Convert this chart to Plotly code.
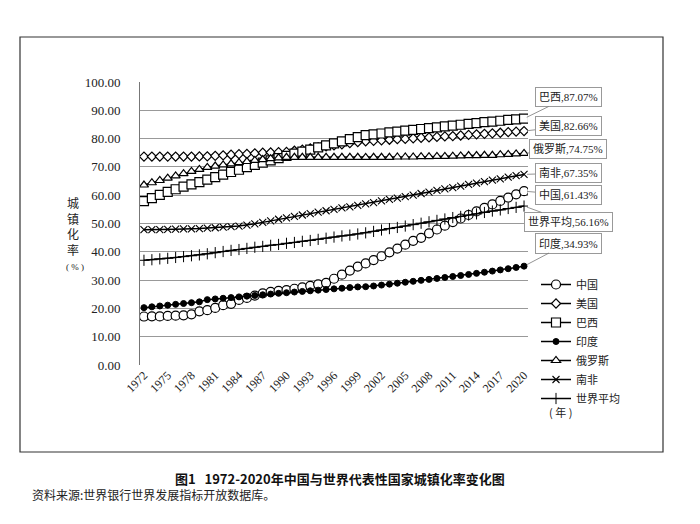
import plotly.graph_objects as go

years = list(range(1972, 2021))

china = [17.13, 17.20, 17.16, 17.34, 17.44, 17.55, 17.92, 18.96, 19.36, 20.16,
         21.13, 21.62, 23.01, 23.71, 24.52, 25.32, 25.81, 26.21, 26.44, 26.94,
         27.46, 27.99, 28.51, 29.04, 30.48, 31.91, 33.35, 34.78, 35.88, 37.09,
         38.43, 39.78, 41.14, 42.52, 43.87, 44.94, 46.54, 47.88, 49.23, 50.51,
         51.77, 53.01, 54.26, 55.50, 56.74, 57.96, 59.15, 60.31, 61.43]
usa = [73.65, 73.66, 73.66, 73.65, 73.66, 73.66, 73.66, 73.69, 73.74, 73.9,
       74.1, 74.3, 74.5, 74.6, 74.8, 75.0, 75.1, 75.2, 75.3, 75.7,
       76.1, 76.5, 76.9, 77.3, 77.6, 78.0, 78.4, 78.8, 79.06, 79.2,
       79.4, 79.6, 79.8, 79.9, 80.1, 80.3, 80.4, 80.6, 80.77, 80.9,
       81.1, 81.3, 81.5, 81.67, 81.86, 82.06, 82.26, 82.46, 82.66]
brazil = [57.9, 59.0, 60.1, 61.2, 62.1, 63.0, 63.8, 64.6, 65.5, 66.4,
          67.3, 68.2, 69.0, 69.9, 70.7, 71.5, 72.3, 73.1, 73.9, 74.7,
          75.4, 76.1, 76.9, 77.6, 78.3, 79.0, 79.8, 80.5, 81.2, 81.5,
          81.8, 82.2, 82.5, 82.8, 83.1, 83.4, 83.7, 84.0, 84.3, 84.6,
          84.9, 85.2, 85.5, 85.8, 86.0, 86.3, 86.6, 86.8, 87.07]
india = [20.27, 20.56, 20.85, 21.14, 21.43, 21.73, 22.02, 22.32, 23.10, 23.34,
         23.58, 23.82, 24.07, 24.32, 24.57, 24.82, 25.07, 25.32, 25.55, 25.78,
         26.00, 26.22, 26.45, 26.67, 26.90, 27.13, 27.36, 27.59, 27.67, 27.92,
         28.24, 28.57, 28.90, 29.24, 29.57, 29.91, 30.25, 30.59, 30.93, 31.28,
         31.63, 32.00, 32.38, 32.78, 33.18, 33.60, 34.03, 34.47, 34.93]
russia = [63.6, 64.4, 65.2, 66.0, 66.8, 67.6, 68.4, 69.1, 69.8, 70.3,
          70.7, 71.1, 71.5, 71.9, 72.3, 72.6, 72.9, 73.2, 73.4, 73.4,
          73.4, 73.4, 73.4, 73.4, 73.4, 73.4, 73.4, 73.4, 73.35, 73.4,
          73.4, 73.4, 73.5, 73.5, 73.5, 73.6, 73.6, 73.7, 73.7, 73.8,
          73.9, 74.0, 74.0, 74.1, 74.1, 74.3, 74.4, 74.6, 74.75]
south_africa = [47.8, 47.8, 47.8, 47.9, 48.0, 48.1, 48.1, 48.2, 48.4, 48.5,
                48.7, 48.9, 49.1, 49.4, 49.9, 50.4, 50.9, 51.5, 52.0, 52.5,
                53.0, 53.5, 54.0, 54.5, 55.0, 55.5, 55.9, 56.4, 56.9, 57.4,
                58.0, 58.5, 59.0, 59.5, 60.0, 60.6, 61.1, 61.7, 62.2, 62.7,
                63.2, 63.8, 64.3, 64.8, 65.3, 65.8, 66.4, 66.9, 67.35]
world = [37.0, 37.2, 37.5, 37.7, 38.0, 38.3, 38.6, 38.9, 39.3, 39.7,
         40.1, 40.5, 40.8, 41.2, 41.6, 41.9, 42.3, 42.6, 43.0, 43.3,
         43.7, 44.0, 44.4, 44.8, 45.2, 45.6, 45.9, 46.3, 46.7, 47.2,
         47.7, 48.2, 48.6, 49.1, 49.6, 50.1, 50.6, 51.1, 51.6, 52.1,
         52.5, 53.0, 53.4, 53.9, 54.4, 54.8, 55.3, 55.7, 56.16]

series_names = ["中国", "美国", "巴西", "印度", "俄罗斯", "南非", "世界平均"]
series_values = [china, usa, brazil, india, russia, south_africa, world]
tick_years = list(range(1972, 2021, 3))
ytick_vals = list(range(0, 101, 10))
ytick_text = [f"{v:.2f}" for v in ytick_vals]

styles = {
    "中国": dict(symbol="circle", size=9, color="white", lw=1.2),
    "美国": dict(symbol="diamond", size=7, color="white", lw=1.2),
    "巴西": dict(symbol="square", size=9, color="white", lw=1.2),
    "印度": dict(symbol="circle", size=6, color="black", lw=1),
    "俄罗斯": dict(symbol="triangle-up", size=8, color="white", lw=1.2),
    "南非": dict(symbol="x-thin", size=7, color="black", lw=1.1),
    "世界平均": dict(symbol="cross-thin", size=8, color="black", lw=1),
}

CJK = "Noto Sans CJK SC"
SERIF = "Liberation Serif, Noto Sans CJK SC"

# screen geometry of the plot area (page has 8px body margin)
L, T, W, H = 140, 82, 388, 283
OFF = 8


def px(xs):
    return (xs - L) / W


def py(ys):
    return (T + H - ys) / H


fig = go.Figure()
for name, vals in zip(series_names, series_values):
    s = styles[name]
    fig.add_trace(go.Scatter(
        x=years, y=vals, name=name, mode="lines+markers",
        line=dict(color="black", width=1.5),
        marker=dict(symbol=s["symbol"], size=s["size"], color=s["color"],
                    line=dict(color="black", width=s["lw"])),
    ))

# callout labels
box_centers = {"巴西": 97, "美国": 126, "俄罗斯": 149, "南非": 173,
               "中国": 195, "世界平均": 222, "印度": 243}
for name, vals in zip(series_names, series_values):
    last = vals[-1]
    pt_y = T + H - last * H / 100
    fig.add_annotation(
        x=years[-1], y=last, xref="x", yref="y",
        text=f"{name},{last:.2f}%", showarrow=True, arrowhead=0,
        arrowwidth=0.8, arrowcolor="#777", ax=44, ay=box_centers[name] - pt_y,
        standoff=3,
        font=dict(family=SERIF, size=11, color="#222"),
        bordercolor="#999", borderwidth=1, borderpad=3, bgcolor="white",
    )

# y axis title (vertical)
fig.add_annotation(x=px(73), y=py(226), xref="paper", yref="paper",
                   xanchor="center", yanchor="middle",
                   text="城<br>镇<br>化<br>率", showarrow=False,
                   font=dict(family=CJK, size=12, color="#222"))
fig.add_annotation(x=px(75), y=py(267), xref="paper", yref="paper",
                   xanchor="center", yanchor="middle",
                   text="( % )", showarrow=False,
                   font=dict(family=SERIF, size=9, color="#222"))
fig.add_annotation(x=px(560), y=py(412), xref="paper", yref="paper",
                   xanchor="center", yanchor="middle",
                   text="( 年 )", showarrow=False,
                   font=dict(family=CJK, size=11, color="#222"))
# caption
fig.add_annotation(x=px(340), y=py(478), xref="paper", yref="paper",
                   xanchor="center", yanchor="middle",
                   text="<b>图1   1972-2020年中国与世界代表性国家城镇化率变化图</b>",
                   showarrow=False, font=dict(family=CJK, size=13, color="#111"))
fig.add_annotation(x=px(30), y=py(494), xref="paper", yref="paper",
                   xanchor="left", yanchor="middle",
                   text="资料来源:世界银行世界发展指标开放数据库。",
                   showarrow=False, font=dict(family=CJK, size=12, color="#222"))

# outer frame
fig.add_shape(type="rect", xref="paper", yref="paper",
              x0=px(20), x1=px(663), y0=py(452), y1=py(37),
              line=dict(color="#333", width=1.2))

fig.update_layout(
    width=700, height=524,
    margin=dict(l=L - OFF, r=700 - (L - OFF) - W, t=T - OFF, b=524 - (T - OFF) - H),
    paper_bgcolor="white", plot_bgcolor="white",
    showlegend=True,
    legend=dict(x=px(536), y=py(270), xanchor="left", yanchor="top",
                font=dict(family=CJK, size=11, color="#222"),
                itemwidth=30, tracegroupgap=0, bgcolor="rgba(0,0,0,0)"),
    xaxis=dict(range=[1971.5, 2020.5], tickmode="array", tickvals=tick_years,
               ticktext=[str(y) for y in tick_years], tickangle=-45,
               showgrid=False, zeroline=False, showline=False, ticks="",
               tickfont=dict(family="Liberation Serif", size=12, color="#222")),
    yaxis=dict(range=[0, 100], tickmode="array", tickvals=ytick_vals,
               ticktext=ytick_text, showgrid=True, gridcolor="#999",
               gridwidth=1, zeroline=False, showline=True, linecolor="#777",
               linewidth=1, ticks="", ticklabelstandoff=16,
               tickfont=dict(family="Liberation Serif", size=13, color="#222")),
)

fig.write_html("out.html")
